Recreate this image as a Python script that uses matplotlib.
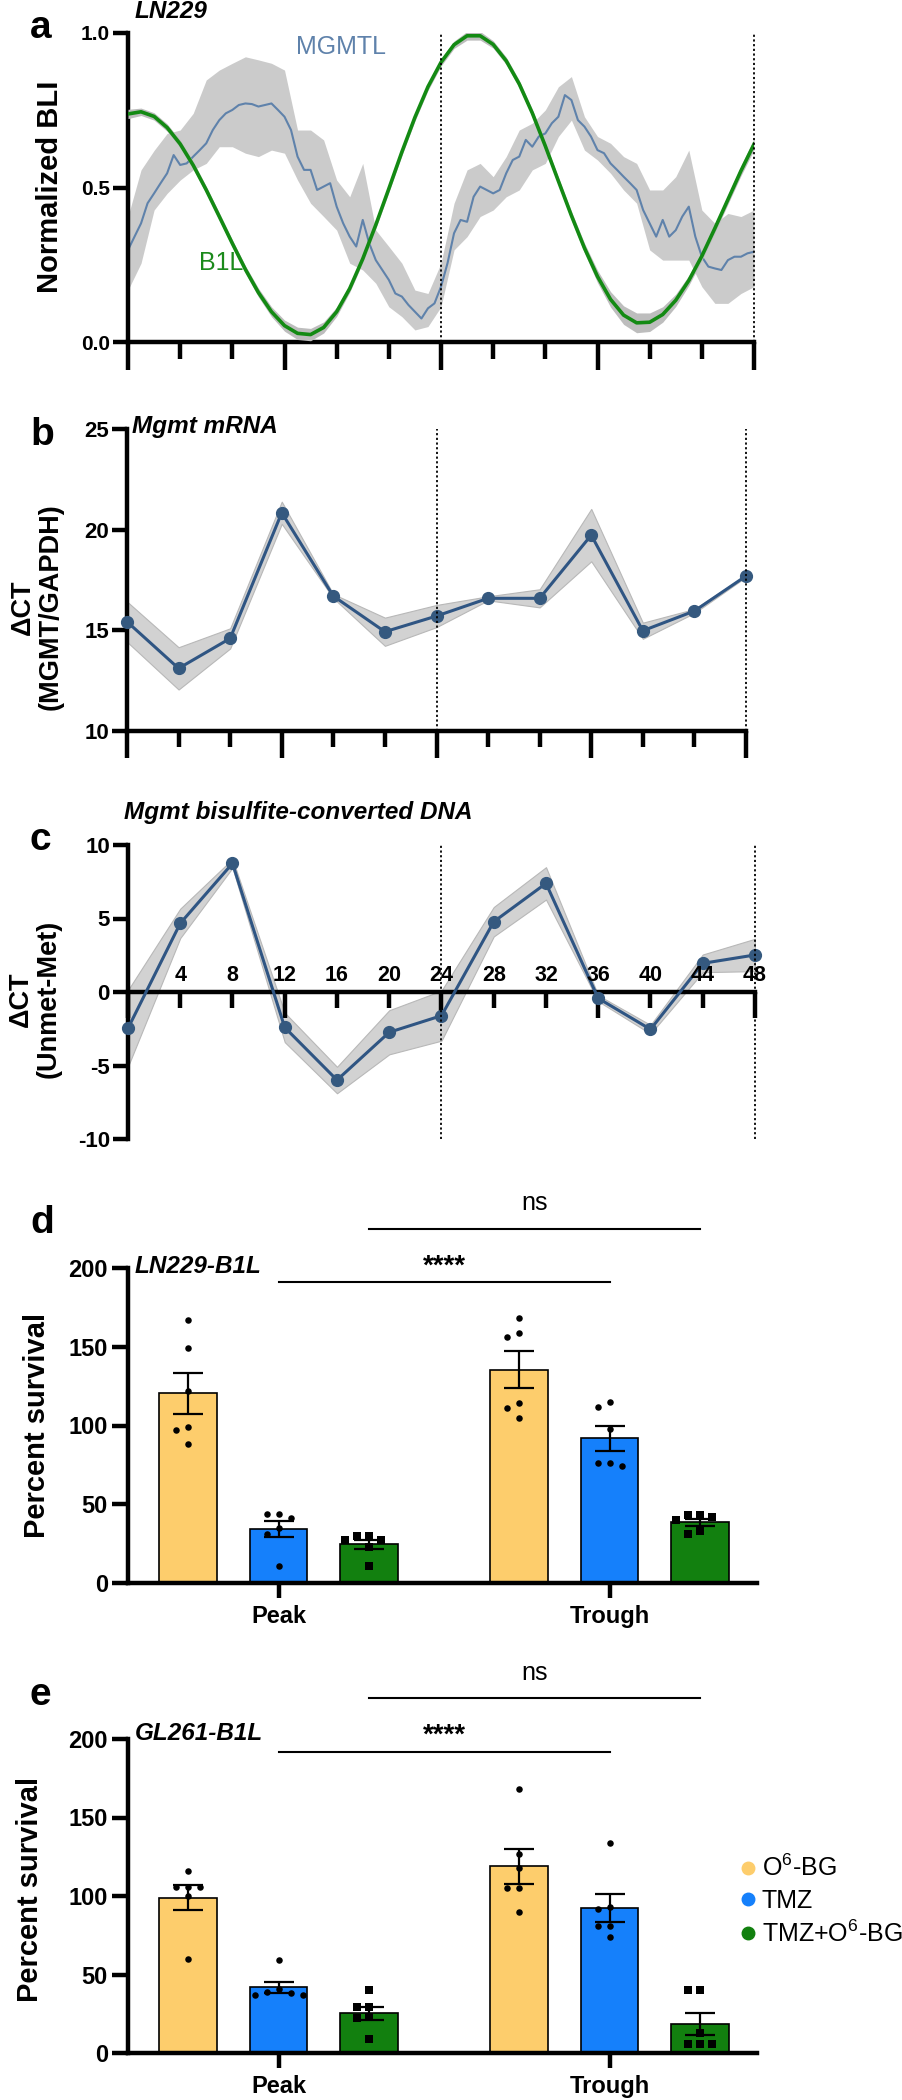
import numpy as np
import matplotlib
matplotlib.use('Agg')
import matplotlib.pyplot as plt
from matplotlib.lines import Line2D

# ---------------- DATA ----------------
# Panel a: normalized BLI (LN229)
a_hours = list(range(49))
b1l_mean = [0.738, 0.745, 0.730, 0.694, 0.641, 0.572, 0.492, 0.406, 0.319, 0.235,
            0.160, 0.098, 0.053, 0.028, 0.024, 0.047, 0.098, 0.173, 0.269, 0.379,
            0.496, 0.615, 0.727, 0.826, 0.905, 0.962, 0.991, 0.991, 0.963, 0.910,
            0.835, 0.741, 0.634, 0.521, 0.409, 0.304, 0.212, 0.138, 0.087, 0.062,
            0.064, 0.089, 0.135, 0.199, 0.278, 0.368, 0.461, 0.554, 0.640]
b1l_sem = [0.015, 0.012, 0.012, 0.012, 0.012, 0.012, 0.012, 0.012, 0.012, 0.012,
           0.014, 0.016, 0.018, 0.020, 0.020, 0.018, 0.015, 0.012, 0.012, 0.012,
           0.012, 0.012, 0.012, 0.012, 0.012, 0.012, 0.014, 0.014, 0.012, 0.012,
           0.012, 0.012, 0.012, 0.012, 0.014, 0.016, 0.020, 0.025, 0.030, 0.032,
           0.030, 0.025, 0.020, 0.016, 0.014, 0.014, 0.015, 0.016, 0.018]
# MGMTL mean trace, read every half hour (0, 0.5, ..., 48 h)
mgmtl_hours = [i * 0.5 for i in range(97)]
mgmtl_mean = [0.298, 0.341, 0.384, 0.449, 0.481, 0.514, 0.546, 0.605, 0.573, 0.578,
              0.600, 0.621, 0.643, 0.686, 0.718, 0.740, 0.751, 0.767, 0.772, 0.770,
              0.762, 0.767, 0.772, 0.751, 0.729, 0.686, 0.600, 0.557, 0.557, 0.492,
              0.503, 0.514, 0.438, 0.384, 0.341, 0.309, 0.395, 0.319, 0.265, 0.233,
              0.201, 0.157, 0.147, 0.120, 0.098, 0.076, 0.109, 0.125, 0.179, 0.255,
              0.352, 0.395, 0.389, 0.470, 0.503, 0.492, 0.481, 0.492, 0.546, 0.589,
              0.600, 0.654, 0.632, 0.665, 0.675, 0.708, 0.729, 0.799, 0.783, 0.718,
              0.697, 0.665, 0.621, 0.611, 0.578, 0.557, 0.535, 0.514, 0.492, 0.427,
              0.384, 0.341, 0.395, 0.341, 0.362, 0.406, 0.438, 0.341, 0.276, 0.244,
              0.238, 0.233, 0.265, 0.276, 0.276, 0.287, 0.292]
# MGMTL error band, read every hour
mgmtl_upper = [0.406, 0.557, 0.620, 0.675, 0.686, 0.740, 0.848, 0.880, 0.902, 0.923,
               0.913, 0.902, 0.880, 0.686, 0.686, 0.654, 0.524, 0.470, 0.578, 0.362,
               0.309, 0.255, 0.168, 0.157, 0.255, 0.449, 0.557, 0.578, 0.535, 0.600,
               0.686, 0.708, 0.751, 0.826, 0.859, 0.729, 0.665, 0.643, 0.600, 0.578,
               0.492, 0.492, 0.535, 0.621, 0.427, 0.384, 0.416, 0.406, 0.427]
mgmtl_lower = [0.168, 0.255, 0.427, 0.481, 0.524, 0.557, 0.578, 0.632, 0.632, 0.611,
               0.600, 0.621, 0.611, 0.524, 0.449, 0.406, 0.362, 0.255, 0.233, 0.190,
               0.114, 0.082, 0.039, 0.050, 0.114, 0.298, 0.341, 0.406, 0.427, 0.470,
               0.492, 0.557, 0.578, 0.665, 0.718, 0.621, 0.589, 0.546, 0.492, 0.449,
               0.298, 0.265, 0.265, 0.265, 0.179, 0.125, 0.125, 0.157, 0.179]

# Panels b, c
qpcr_hours = [0, 4, 8, 12, 16, 20, 24, 28, 32, 36, 40, 44, 48]
mrna_mean = [15.43, 13.11, 14.60, 20.84, 16.70, 14.93, 15.71, 16.59, 16.59, 19.73, 14.98, 15.96, 17.70]
mrna_sem = [1.00, 1.05, 0.50, 0.55, 0.10, 0.70, 0.55, 0.10, 0.45, 1.30, 0.40, 0.10, 0.05]
dna_mean = [-2.47, 4.67, 8.75, -2.41, -5.99, -2.74, -1.61, 4.78, 7.39, -0.43, -2.54, 1.95, 2.52]
dna_sem = [2.60, 1.00, 0.30, 1.00, 0.90, 1.50, 1.70, 1.00, 1.10, 0.20, 0.30, 0.60, 1.10]
dna_tick_labels = ['4', '8', '12', '16', '20', '24', '28', '32', '36', '40', '44', '48']

# Panels d, e
groups = ['Peak', 'Trough']
treatments = ['O$^{6}$-BG', 'TMZ', 'TMZ+O$^{6}$-BG']
d_points = {
    ('Peak', 0): [167, 149, 122, 99, 97, 88],
    ('Peak', 1): [44, 44, 41, 35, 31, 11],
    ('Peak', 2): [30, 30, 27, 27, 23, 11],
    ('Trough', 0): [168, 159, 156, 114, 111, 105],
    ('Trough', 1): [115, 112, 98, 76, 76, 74],
    ('Trough', 2): [43, 43, 42, 40, 33, 31],
}
e_points = {
    ('Peak', 0): [116, 106, 106, 106, 100, 60],
    ('Peak', 1): [59, 41, 39, 38, 37, 37],
    ('Peak', 2): [40, 29, 29, 23, 22, 9],
    ('Trough', 0): [168, 127, 118, 105, 105, 90],
    ('Trough', 1): [134, 93, 92, 81, 81, 74],
    ('Trough', 2): [40, 40, 13, 6, 6, 6],
}

# ---------------- STYLE ----------------
plt.rcParams['font.family'] = ['Liberation Sans', 'DejaVu Sans']
plt.rcParams['axes.unicode_minus'] = False
plt.rcParams['mathtext.fontset'] = 'custom'
plt.rcParams['mathtext.rm'] = 'Liberation Sans'
plt.rcParams['mathtext.it'] = 'Liberation Sans:italic'
plt.rcParams['mathtext.bf'] = 'Liberation Sans:bold'

W, H = 902, 2100
fig = plt.figure(figsize=(W / 100, H / 100), dpi=100)
SPW = 3.2
BAR_COLORS = ['#fdcd6c', '#1580fb', '#12800f']
LINE_C = '#2f5583'


def add_ax(l, r, t, b):
    return fig.add_axes([l / W, 1 - b / H, (r - l) / W, (b - t) / H])


def ftext(x, y, s, **kw):
    return fig.text(x / W, 1 - y / H, s, **kw)


def style_spines(ax):
    for s in ['top', 'right']:
        ax.spines[s].set_visible(False)
    for s in ['left', 'bottom']:
        ax.spines[s].set_linewidth(SPW)
        ax.spines[s].set_capstyle('projecting')


def time_axis(ax, fs, major_len, minor_len):
    ax.set_xlim(0, 48)
    ax.set_xticks([0, 12, 24, 36, 48])
    ax.set_xticks([4, 8, 16, 20, 28, 32, 40, 44], minor=True)
    ax.tick_params(axis='x', which='major', length=major_len, width=SPW, labelbottom=False)
    ax.tick_params(axis='x', which='minor', length=minor_len, width=SPW, labelbottom=False)
    ax.tick_params(axis='y', which='major', length=11, width=SPW, pad=2, labelsize=fs)
    for lab in ax.get_yticklabels():
        lab.set_fontweight('bold')


def dotted(ax, x, y0, y1):
    ax.plot([x, x], [y0, y1], color='black', lw=1.3, ls=(0, (1.2, 1.4)), clip_on=False, zorder=5)


# ---------------- PANEL a ----------------
axa = add_ax(128, 754, 33, 342)
style_spines(axa)
axa.set_ylim(0, 1)
axa.fill_between(a_hours, mgmtl_lower, mgmtl_upper, color='#cbcbcb', lw=0, zorder=1)
axa.plot(mgmtl_hours, mgmtl_mean, color='#5f82ab', lw=1.5, zorder=2)
lo = [m - s for m, s in zip(b1l_mean, b1l_sem)]
hi = [m + s for m, s in zip(b1l_mean, b1l_sem)]
axa.fill_between(a_hours, lo, hi, color='#bdbdbd', lw=0, zorder=3)
axa.plot(a_hours, b1l_mean, color='#138a13', lw=2.6, zorder=4)
axa.set_yticks([0, 0.5, 1.0])
axa.set_yticklabels(['0.0', '0.5', '1.0'])
time_axis(axa, 15, 20, 12)
dotted(axa, 24, 0, 1)
dotted(axa, 48, 0, 1)
axa.text(0.268, 0.955, 'MGMTL', transform=axa.transAxes, color='#5f82ab', fontsize=18,
         ha='left', va='center')
axa.text(0.113, 0.256, 'B1L', transform=axa.transAxes, color='#1b8a1b', fontsize=18,
         ha='left', va='center')

# ---------------- PANEL b ----------------
axb = add_ax(127, 746, 429, 731)
style_spines(axb)
axb.set_ylim(10, 25)
lo = [m - s for m, s in zip(mrna_mean, mrna_sem)]
hi = [m + s for m, s in zip(mrna_mean, mrna_sem)]
axb.fill_between(qpcr_hours, lo, hi, color='#d2d2d2', edgecolor='#b8b8b8', lw=0.8, zorder=1)
axb.plot(qpcr_hours, mrna_mean, color=LINE_C, lw=2.2, marker='o', ms=8.5,
         mfc='#35597f', mec='#35597f', clip_on=False, zorder=3)
axb.set_yticks([10, 15, 20, 25])
time_axis(axb, 16, 19.5, 11.5)
dotted(axb, 24, 10, 25)
dotted(axb, 48, 10, 25)

# ---------------- PANEL c ----------------
axc = add_ax(128, 755, 845, 1139)
style_spines(axc)
axc.set_ylim(-10, 10)
axc.spines['bottom'].set_position(('data', 0))
lo = [m - s for m, s in zip(dna_mean, dna_sem)]
hi = [m + s for m, s in zip(dna_mean, dna_sem)]
axc.fill_between(qpcr_hours, lo, hi, color='#d2d2d2', edgecolor='#b8b8b8', lw=0.8, zorder=1)
axc.plot(qpcr_hours, dna_mean, color=LINE_C, lw=2.2, marker='o', ms=8.5,
         mfc='#35597f', mec='#35597f', clip_on=False, zorder=3)
axc.set_yticks([-10, -5, 0, 5, 10])
time_axis(axc, 16, 18.5, 11.5)
for h, lab in zip(qpcr_hours[1:], dna_tick_labels):
    axc.annotate(lab, xy=(h, 0), xytext=(0, 4), textcoords='offset points',
                 ha='center', va='bottom', fontsize=15.5, fontweight='bold', zorder=4)
dotted(axc, 24, -10, 10)
dotted(axc, 48, -10, 10)


# ---------------- PANELS d, e ----------------
def swarm_offsets(vals, ypx_per_unit, xpx_per_unit, dx_px=12.0, min_dy_px=8.0):
    placed = []
    offs = [0.0] * len(vals)
    order = np.argsort(vals)[::-1]
    for i in order:
        y = vals[i] * ypx_per_unit
        for k in [0, -1, 1, -2, 2, -3, 3]:
            if all(not (kk == k and abs(yy - y) < min_dy_px) for (yy, kk) in placed):
                placed.append((y, k))
                offs[i] = k * dx_px / xpx_per_unit
                break
    return offs


def bar_panel(ax, pts, ypx, ns_y, star_y):
    style_spines(ax)
    ax.set_ylim(0, 200)
    ax.set_xlim(-0.4547, 1.4456)
    off = 0.2734
    bw = 0.175
    xpx = 331.0
    for gi, g in enumerate(groups):
        for ti in range(3):
            vals = pts[(g, ti)]
            x = gi + (ti - 1) * off
            m = float(np.mean(vals))
            sem = float(np.std(vals, ddof=1) / np.sqrt(len(vals)))
            ax.bar(x, m, width=bw, color=BAR_COLORS[ti], edgecolor='black', lw=1.2, zorder=2)
            ax.errorbar(x, m, yerr=sem, color='black', lw=1.6, capsize=10.5, capthick=1.6, zorder=4)
            offs = swarm_offsets(vals, ypx, xpx)
            ax.scatter([x + o for o in offs], vals, s=22 if ti < 2 else 26,
                       marker='o' if ti < 2 else 's', color='black', zorder=5, lw=0)
    ax.set_yticks([0, 50, 100, 150, 200])
    ax.set_xticks([0, 1])
    ax.set_xticklabels(groups)
    ax.tick_params(axis='y', length=11.5, width=SPW, pad=3, labelsize=17)
    ax.tick_params(axis='x', length=11, width=SPW, pad=5, labelsize=17)
    for lab in ax.get_yticklabels() + ax.get_xticklabels():
        lab.set_fontweight('bold')
    # significance
    ax.plot([off, 1 + off], [ns_y[0], ns_y[0]], color='black', lw=1.5, clip_on=False)
    ax.text(0.5 + off, ns_y[1], 'ns', ha='center', va='center', fontsize=18)
    ax.plot([0, 1], [star_y[0], star_y[0]], color='black', lw=1.5, clip_on=False)
    ax.text(0.5, star_y[1], '****', ha='center', va='center', fontsize=20, fontweight='bold')


axd = add_ax(128, 757, 1268, 1583)
bar_panel(axd, d_points, 1.575, (225, 241), (191, 201))
axe = add_ax(128, 757, 1739, 2053)
bar_panel(axe, e_points, 1.57, (226, 242), (191.7, 202))

handles = [Line2D([], [], ls='', marker='o', ms=9, color=c) for c in BAR_COLORS]
fig.legend(handles, treatments, loc='center left', bbox_to_anchor=(742 / W, 1 - 1901 / H),
           frameon=False, fontsize=18, handlelength=0.5, handletextpad=0.3,
           labelspacing=0.3, borderpad=0, borderaxespad=0)

# ---------------- TEXT ----------------
for x, y, s in [(30, 38, 'a'), (30, 445, 'b'), (30, 850, 'c'), (30, 1233, 'd'), (30, 1705, 'e')]:
    ftext(x, y, s, fontsize=28, fontweight='bold', va='baseline', ha='left')

for x, y, s in [(135, 18, 'LN229'), (132, 433, 'Mgmt mRNA'),
                (124, 819, 'Mgmt bisulfite-converted DNA'),
                (135, 1273, 'LN229-B1L'), (135, 1740, 'GL261-B1L')]:
    ftext(x, y, s, fontsize=17.5, fontweight='bold', style='italic', va='baseline', ha='left')

ftext(50, 187, 'Normalized BLI', rotation=90, fontsize=21, fontweight='bold',
      ha='center', va='center')
ftext(37, 607, '\u0394CT\n(MGMT/GAPDH)', rotation=90, fontsize=19.5, fontweight='bold',
      ha='center', va='center', multialignment='center', linespacing=1.1)
ftext(35, 999, '\u0394CT\n(Unmet-Met)', rotation=90, fontsize=19.5, fontweight='bold',
      ha='center', va='center', multialignment='center', linespacing=1.1)
ftext(37, 1425, 'Percent survival', rotation=90, fontsize=21, fontweight='bold',
      ha='center', va='center')
ftext(30, 1889, 'Percent survival', rotation=90, fontsize=21, fontweight='bold',
      ha='center', va='center')

fig.savefig('out.png', dpi=100)
